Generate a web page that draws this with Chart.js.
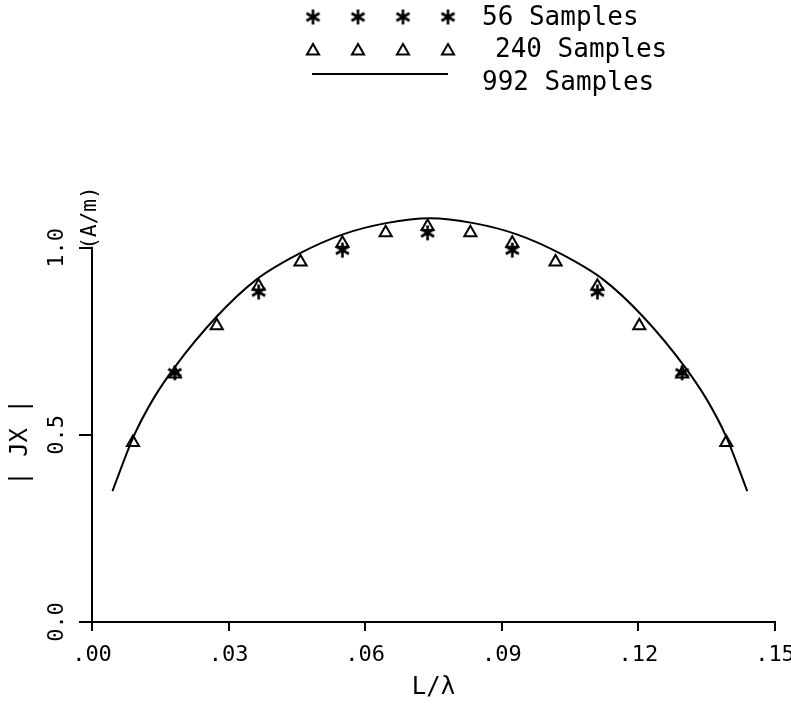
<!DOCTYPE html>
<html>
<head>
<meta charset="utf-8">
<script src="https://cdn.jsdelivr.net/npm/chart.js@4.4.1/dist/chart.umd.min.js"></script>
<style>
  body { margin: 0; background: #fff; }
  #wrap { width: 791px; height: 708px; }
</style>
</head>
<body>
<div id="wrap"><canvas id="myChart"></canvas></div>
<script>
// 992 samples - solid curve
const curveX = [0.0045, 0.0091, 0.0135, 0.0181, 0.0273, 0.0361, 0.0456, 0.0551, 0.0646, 0.0742,
                0.0838, 0.0933, 0.1028, 0.1123, 0.1211, 0.1303, 0.1349, 0.1393, 0.1439];
const curveY = [0.350, 0.495, 0.597, 0.680, 0.815, 0.915, 0.985, 1.036, 1.066, 1.079,
                1.066, 1.036, 0.985, 0.915, 0.815, 0.680, 0.597, 0.495, 0.350];

// 240 samples - triangles
const triX = [0.0090, 0.0182, 0.0274, 0.0366, 0.0458, 0.0550, 0.0645, 0.0737, 0.0831, 0.0923, 0.1018, 0.1110, 0.1202, 0.1296, 0.1393];
const triY = [0.480, 0.663, 0.792, 0.897, 0.962, 1.012, 1.040, 1.057, 1.040, 1.012, 0.962, 0.897, 0.792, 0.663, 0.480];

// 56 samples - stars
const starX = [0.0182, 0.0366, 0.0550, 0.0737, 0.0923, 0.1110, 0.1296];
const starY = [0.666, 0.882, 0.994, 1.040, 0.994, 0.882, 0.666];

const xTicks = [0, 0.03, 0.06, 0.09, 0.12, 0.15];
const yTicks = [0, 0.5, 1.0];
const legendLabels = ['56 Samples', '240 Samples', '992 Samples'];

const FONT = '"DejaVu Sans Mono", monospace';

function toPoints(xs, ys) {
    return xs.map((x, i) => ({ x: x, y: ys[i] }));
}

// asterisk marker like the plotter one (vertical bar + two diagonals)
function makeAsterisk(size, lw) {
    const c = document.createElement('canvas');
    c.width = size;
    c.height = size;
    const g = c.getContext('2d');
    const r = size / 2 - 1;
    g.strokeStyle = '#000';
    g.lineWidth = lw;
    g.beginPath();
    [90, 30, 150].forEach(a => {
        const dx = Math.cos(a * Math.PI / 180) * r;
        const dy = Math.sin(a * Math.PI / 180) * r;
        g.moveTo(size / 2 - dx, size / 2 - dy);
        g.lineTo(size / 2 + dx, size / 2 + dy);
    });
    g.stroke();
    return c;
}
const asterisk = makeAsterisk(17, 2.6);

// legend rows, y axis line (0..1.0 only), y title and unit
const extrasPlugin = {
    id: 'extras',
    afterDraw(chart) {
        const ctx = chart.ctx;
        const yScale = chart.scales.y;
        const left = chart.chartArea.left;
        const marks = [313, 358, 403, 448];
        ctx.save();
        ctx.fillStyle = '#000';
        ctx.strokeStyle = '#000';

        // y axis line stops at 1.0 like the original
        ctx.lineWidth = 2;
        ctx.beginPath();
        ctx.moveTo(left, yScale.getPixelForValue(0) + 1);
        ctx.lineTo(left, yScale.getPixelForValue(1.0) - 1);
        ctx.stroke();

        ctx.font = '26px ' + FONT;
        ctx.textBaseline = 'middle';
        ctx.textAlign = 'left';

        marks.forEach(x => ctx.drawImage(asterisk, x - 8.5, 17 - 8.5));
        ctx.fillText(legendLabels[0], 482, 18);

        ctx.fillStyle = 'rgba(0,0,0,0)';
        marks.forEach(x => Chart.helpers.drawPoint(ctx, {
            pointStyle: 'triangle', radius: 7, rotation: 0, borderWidth: 2
        }, x, 51));
        ctx.fillStyle = '#000';
        ctx.fillText(legendLabels[1], 495, 50);

        ctx.lineWidth = 2;
        ctx.beginPath();
        ctx.moveTo(312, 74);
        ctx.lineTo(448, 74);
        ctx.stroke();
        ctx.fillText(legendLabels[2], 482, 83);

        // y title
        ctx.save();
        ctx.font = '24px ' + FONT;
        ctx.textAlign = 'center';
        ctx.translate(21, yScale.getPixelForValue(0.48));
        ctx.rotate(-Math.PI / 2);
        ctx.fillText('| JX |', 0, 0);
        ctx.restore();

        // unit label above the y axis
        ctx.font = '21px ' + FONT;
        ctx.textAlign = 'center';
        ctx.translate(left - 1, 218);
        ctx.rotate(-Math.PI / 2);
        ctx.fillText('(A/m)', 0, 0);
        ctx.restore();
    }
};

const ctx = document.getElementById('myChart').getContext('2d');
const myChart = new Chart(ctx, {
    type: 'scatter',
    data: {
        datasets: [{
            label: legendLabels[1],
            data: toPoints(triX, triY),
            pointStyle: 'triangle',
            pointRadius: 7,
            borderColor: '#000',
            backgroundColor: 'rgba(0,0,0,0)',
            borderWidth: 2,
            clip: false
        }, {
            label: legendLabels[0],
            data: toPoints(starX, starY),
            pointStyle: asterisk,
            borderColor: '#000',
            backgroundColor: '#000',
            clip: false
        }, {
            label: legendLabels[2],
            data: toPoints(curveX, curveY),
            showLine: true,
            cubicInterpolationMode: 'monotone',
            pointRadius: 0,
            borderColor: '#000',
            borderWidth: 2,
            clip: false
        }]
    },
    options: {
        responsive: true,
        maintainAspectRatio: false,
        animation: false,
        layout: {
            padding: { top: 173, right: 16, left: 0, bottom: 0 }
        },
        plugins: {
            legend: { display: false },
            tooltip: { enabled: false }
        },
        scales: {
            x: {
                type: 'linear',
                min: 0,
                max: 0.15,
                afterBuildTicks: (scale) => { scale.ticks = xTicks.map(v => ({ value: v })); },
                afterFit: (scale) => { scale.height = 86; scale.paddingLeft = 0; scale.paddingRight = 0; },
                border: { color: '#000', width: 2 },
                grid: { drawOnChartArea: false, drawTicks: true, tickLength: 9, color: '#000', lineWidth: 2 },
                ticks: {
                    color: '#000',
                    font: { family: FONT, size: 22 },
                    padding: 11,
                    maxRotation: 0,
                    callback: (v) => v.toFixed(2).replace(/^0/, '')
                },
                title: {
                    display: true,
                    text: 'L/λ',
                    color: '#000',
                    font: { family: FONT, size: 24 },
                    padding: { top: 0, bottom: 6 }
                }
            },
            y: {
                type: 'linear',
                min: 0,
                max: 1.2,
                afterBuildTicks: (scale) => { scale.ticks = yTicks.map(v => ({ value: v })); },
                afterFit: (scale) => { scale.width = 92; scale.paddingTop = 0; scale.paddingBottom = 0; },
                border: { display: false },
                grid: { drawOnChartArea: false, drawTicks: true, tickLength: 13, color: '#000', lineWidth: 2 },
                ticks: {
                    color: '#000',
                    font: { family: FONT, size: 22 },
                    padding: 2,
                    minRotation: 90,
                    maxRotation: 90,
                    crossAlign: 'center',
                    callback: (v) => v.toFixed(1)
                }
            }
        }
    },
    plugins: [extrasPlugin]
});
</script>
</body>
</html>
